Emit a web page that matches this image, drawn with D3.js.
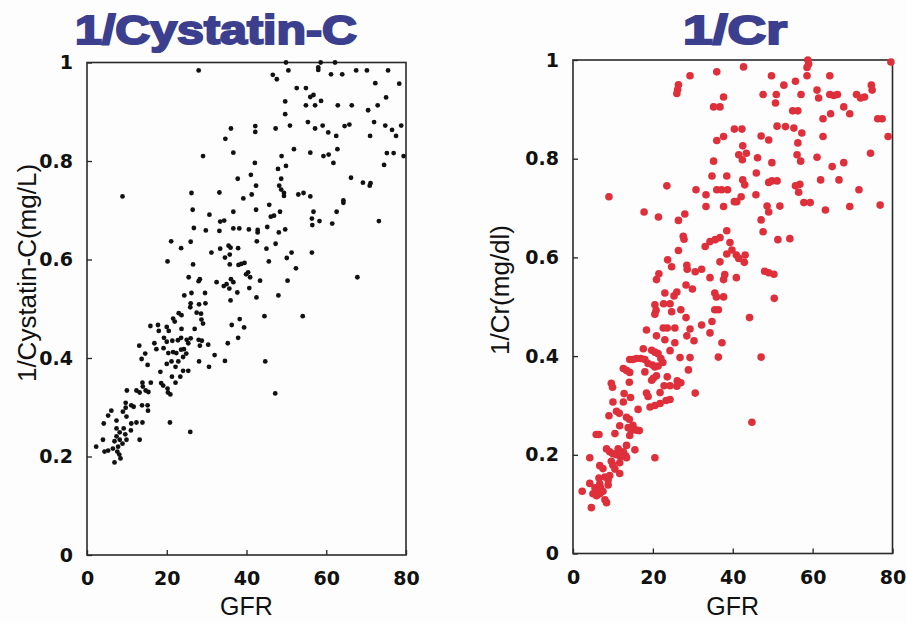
<!DOCTYPE html>
<html>
<head>
<meta charset="utf-8">
<script src="https://cdn.jsdelivr.net/npm/d3@7"></script>
<style>
  body { margin: 0; background: #fdfdfd; }
  svg { display: block; }
  .tick text { font-family: "DejaVu Sans", Arial, sans-serif; font-weight: bold; font-size: 19px; fill: #111; }
  .tick line { stroke: #222; stroke-width: 1.3; }
</style>
</head>
<body>
<div class="chart"></div>
<script>
// values: [GFR, 1/x]
const cystatinPoints = [
[49.9,1.0],[58.6,1.0],[62.2,1.0],[58,0.99],[58,0.985],[50.5,0.984],[28,0.984],[46.6,0.975],[47.6,0.966],[61.2,0.976],[64,0.976],[67.5,0.984],[70.2,0.984],[75.5,0.984],[72.3,0.958],[78.3,0.957],[52.6,0.948],[54.9,0.948],[56,0.93],[56.8,0.934],[54.9,0.913],[57.2,0.913],[58.7,0.922],[49.7,0.921],[49.7,0.895],[62.9,0.913],[66.4,0.913],[70.5,0.903],[72.9,0.913],[75,0.929],
[50.9,0.872],[59.1,0.872],[57.2,0.866],[55.4,0.879],[60.5,0.858],[62.5,0.851],[64.6,0.871],[65.8,0.874],[71,0.851],[72,0.879],[74.8,0.872],[76.5,0.863],[78.8,0.872],[77.5,0.851],[42.2,0.871],[42.2,0.859],[36.1,0.866],[34.7,0.845],[47.3,0.866],[36.7,0.817],[51.9,0.824],[62.8,0.824],[56,0.817],[60.6,0.813],[59.3,0.81],[61.8,0.796],[75.2,0.816],[76.9,0.816],[74.5,0.792],[79.4,0.81],
[29.1,0.81],[42.1,0.796],[48.8,0.81],[47.9,0.784],[49.9,0.79],[37.8,0.764],[41.1,0.772],[48.7,0.764],[42.4,0.75],[66.2,0.766],[69.2,0.756],[70.9,0.75],[71.1,0.755],[48.2,0.75],[48.7,0.742],[49.4,0.735],[49.4,0.729],[26.2,0.735],[33.2,0.736],[39.2,0.724],[41.3,0.732],[53,0.732],[54.3,0.735],[56,0.728],[64.3,0.72],[64.3,0.715],
[26.5,0.701],[30.7,0.691],[36.7,0.697],[45.7,0.711],[46.1,0.687],[46.9,0.689],[42.4,0.701],[48.4,0.697],[56.8,0.697],[62.6,0.697],[56.4,0.683],[56.5,0.67],[58.3,0.678],[61.5,0.673],[73.2,0.678],[8.9,0.728],
[26.8,0.664],[29.8,0.659],[33.2,0.658],[36.7,0.663],[38.2,0.663],[40.6,0.661],[42.8,0.66],[42.8,0.655],[33.4,0.677],[34.4,0.679],[45.2,0.666],[48.1,0.655],[49.7,0.661],[47.3,0.632],[45,0.622],[42.6,0.637],[56.4,0.614],[35.5,0.628],[36,0.624],[37.9,0.623],[33.4,0.622],[31.2,0.614],[26,0.636],[21.1,0.637],[23.6,0.623],
[20.2,0.596],[26.6,0.59],[35.8,0.61],[34.6,0.604],[35.8,0.59],[38,0.589],[38.7,0.591],[39.5,0.593],[45.6,0.596],[50.1,0.603],[51.3,0.614],[52.4,0.582],[40.4,0.574],[39.9,0.57],[32.5,0.554],[28.3,0.56],[28,0.556],[25.5,0.564],[36.1,0.56],[36.7,0.554],[35,0.55],[40.9,0.564],[43.4,0.557],[50.3,0.557],[34.3,0.546],[35.7,0.541],
[26.2,0.532],[29.6,0.532],[29.7,0.511],[24.4,0.527],[36,0.517],[37.7,0.533],[40.7,0.542],[42.5,0.523],[48,0.527],[28.1,0.509],[26,0.511],[25.9,0.503],[27.5,0.492],[28.6,0.49],[28.7,0.478],[29.1,0.47],[23,0.491],[23.7,0.487],[21.6,0.48],[22,0.474],[23.7,0.459],[27,0.459],[25,0.437],[25.4,0.43],[26,0.44],[28,0.437],[28.8,0.435],[28.3,0.425],[30.4,0.427],
[28.1,0.393],[30.6,0.382],[32,0.406],[34.6,0.394],[35.3,0.43],[36.3,0.467],[38.3,0.479],[37.9,0.441],[39.4,0.462],[44.5,0.485],[44.7,0.393],[47.2,0.328],[67.8,0.564],[54.1,0.485],
[15.9,0.465],[17.8,0.467],[18,0.455],[20,0.463],[20.5,0.455],[19.3,0.441],[20,0.433],[21.4,0.435],[22.8,0.436],[23.6,0.441],[24.3,0.418],[23.6,0.417],[21.6,0.412],[20.4,0.41],[19.2,0.42],[17.4,0.418],[16.9,0.43],[13.1,0.425],[14.6,0.409],[13.7,0.398],[15.2,0.386],[22.4,0.41],[24.9,0.409],[24.1,0.402],[22.9,0.393],[22.2,0.382],[21.2,0.393],[24.1,0.374],[25.4,0.374],[23.4,0.362],[21.3,0.362],[20,0.388],[18.4,0.372],
[18.6,0.349],[19.1,0.344],[20.2,0.338],[20.9,0.326],[20.3,0.33],[22.2,0.35],[16,0.35],[13.9,0.35],[14,0.342],[15.4,0.331],[14.7,0.334],[13.2,0.33],[12.4,0.334],[15.2,0.304],[15.3,0.293],[13.8,0.304],[11.7,0.301],[11.1,0.304],[9.7,0.309],[9.7,0.299],[10,0.334],[9,0.291],[6.1,0.293],[5.3,0.283],[4.2,0.267],[7.4,0.273],[11.1,0.267],[12.4,0.269],[13.9,0.269],[9.9,0.281],
[11,0.253],[9.2,0.257],[7.4,0.257],[8.2,0.249],[9.6,0.245],[7.4,0.241],[6.9,0.231],[8.2,0.234],[8.9,0.226],[9.9,0.234],[4,0.234],[13.2,0.234],[2.3,0.22],[4.4,0.21],[5.3,0.212],[7.8,0.22],[8.1,0.204],[8.4,0.196],[6.9,0.188],[6.5,0.216],[7.6,0.21],[20.8,0.269],[25.9,0.25]
];

const creatininePoints = [
[58.8,1.0],[59,0.992],[58.6,0.985],[79.6,0.996],[42.7,0.986],[36,0.976],[29.3,0.968],[49.7,0.968],[58.6,0.968],[64.3,0.968],[26.4,0.95],[26.2,0.94],[26,0.932],[52.8,0.949],[55.7,0.957],[74.7,0.949],[74.9,0.939],[61.1,0.939],[47.6,0.93],[50.9,0.93],[57.1,0.93],[64.3,0.93],[65.3,0.928],[66.2,0.93],[71,0.93],[72,0.923],[73,0.925],[61.5,0.923],[37.7,0.925],[50.7,0.913],
[35.2,0.905],[36.8,0.905],[55,0.897],[56.3,0.897],[67.8,0.905],[69.3,0.891],[62.6,0.881],[64.5,0.891],[76.3,0.881],[77.4,0.881],[51.1,0.866],[53.2,0.865],[55.3,0.862],[40.4,0.86],[42.3,0.86],[57.3,0.852],[47.1,0.846],[62.6,0.845],[78.9,0.845],[49,0.838],[36,0.837],[37.7,0.845],[42.5,0.826],[56.3,0.832],[43.4,0.811],[41.5,0.808],[42.4,0.798],[56.1,0.808],[74.5,0.811],[57,0.795],
[61.1,0.803],[46.2,0.802],[49.8,0.792],[35.2,0.795],[64.9,0.784],[67.8,0.792],[34.8,0.765],[38.5,0.765],[45.9,0.771],[66.6,0.757],[62,0.757],[49,0.752],[49.8,0.755],[51.1,0.755],[23.5,0.745],[42.5,0.757],[43,0.747],[55.7,0.745],[56.8,0.748],[56.5,0.732],[30.8,0.737],[36,0.737],[37.2,0.737],[38.7,0.737],[33.3,0.727],[45.8,0.727],[42.1,0.723],[40.4,0.713],[41,0.713],[71.6,0.737],[9,0.723],
[48.6,0.704],[49,0.692],[51.8,0.704],[57.8,0.711],[59.4,0.711],[69.3,0.703],[76.9,0.706],[63.2,0.696],[33.3,0.703],[37.7,0.703],[17.8,0.692],[21.4,0.682],[28,0.688],[26.4,0.675],[47.1,0.676],[47.6,0.652],[38.5,0.654],[36.8,0.64],[35.6,0.636],[27.6,0.643],[27.8,0.637],[34.3,0.632],[33.1,0.622],[39.3,0.63],[39.8,0.615],[51.3,0.636],[54.3,0.638],[26.4,0.614],
[38.5,0.607],[40.9,0.605],[41.5,0.598],[43.1,0.605],[42.9,0.59],[23.7,0.595],[36.8,0.591],[24.7,0.581],[28.5,0.584],[28.6,0.576],[30.6,0.571],[32.2,0.576],[21.5,0.567],[20.9,0.555],[34.3,0.559],[38,0.565],[37.7,0.555],[40.9,0.559],[48,0.572],[49,0.569],[50.3,0.566],[28.3,0.544],[29.9,0.536],[26,0.53],[25.3,0.522],[23,0.528],[22.7,0.506],[20.5,0.504],[35.5,0.528],[35.9,0.52],[37.7,0.52],[50.4,0.517],
[24.3,0.506],[27,0.494],[20.8,0.493],[20.5,0.485],[24.7,0.49],[35.5,0.494],[36.4,0.494],[34.8,0.47],[28.3,0.478],[44.2,0.478],[18.4,0.453],[22.6,0.457],[23.6,0.457],[25.5,0.457],[29.3,0.455],[32.2,0.463],[34.3,0.447],[28.5,0.441],[20.9,0.441],[23,0.433],[25.5,0.427],[30.3,0.431],[37.3,0.427],
[17.6,0.415],[19.7,0.412],[20.5,0.408],[21.3,0.405],[22,0.395],[22.5,0.387],[24.3,0.411],[26.8,0.397],[29.3,0.397],[36.4,0.398],[47.1,0.398],[14.2,0.393],[15,0.393],[15.9,0.395],[17,0.395],[18,0.393],[18.8,0.385],[19.9,0.382],[20.5,0.378],[21.3,0.38],[12.6,0.375],[13.4,0.371],[14.2,0.367],[18,0.368],[20.9,0.36],[20.1,0.355],[19.7,0.351],[23.6,0.358],[26.1,0.35],[28.9,0.372],
[14.1,0.347],[9.6,0.345],[9.9,0.337],[22.8,0.34],[24.3,0.34],[26,0.339],[27,0.346],[18.4,0.325],[18.8,0.318],[21.8,0.326],[23.3,0.31],[24.3,0.312],[19.3,0.297],[20.5,0.3],[21.8,0.304],[30.6,0.325],[12.8,0.324],[10,0.307],[12.6,0.307],[14.4,0.316],[16.3,0.292],[10.9,0.288],[11.6,0.284],[9,0.279],[13.4,0.276],[14.1,0.272],[11.7,0.259],[15,0.26],[13.8,0.255],[14.6,0.249],[15.9,0.25],[16.6,0.249],[44.8,0.266],
[6.5,0.241],[5.8,0.241],[10.5,0.243],[14.2,0.239],[15.5,0.21],[13.4,0.219],[11.3,0.212],[12.6,0.206],[13.2,0.198],[13.4,0.194],[8.4,0.212],[9.2,0.206],[10,0.202],[10.9,0.2],[11.9,0.196],[20.5,0.194],[4.2,0.194],[9.6,0.187],[10,0.179],[10.5,0.171],[11.7,0.184],[6.7,0.178],[7.5,0.172],[11.7,0.162],[8,0.155],[8.8,0.149],[6.5,0.153],[6.7,0.141],[6.9,0.133],[5.5,0.133],[5.9,0.127],[4.2,0.142],
[2.3,0.126],[5,0.121],[5.9,0.117],[6.7,0.121],[7.5,0.126],[8,0.109],[8.4,0.103],[4.6,0.093],[8.8,0.139],[9.2,0.158]
];

const gfrTicks = [0, 20, 40, 60, 80];
const valueTicks = [0, 0.2, 0.4, 0.6, 0.8, 1];

const W = 907, H = 623;

const svg = d3.select(".chart").append("svg")
    .attr("width", W)
    .attr("height", H);

function panel(opts) {
  const x = d3.scaleLinear().domain([0, 80]).range([opts.left, opts.right]);
  const y = d3.scaleLinear().domain([0, 1]).range([opts.bottom, opts.top]);

  const g = svg.append("g");

  // y axis (ticks point inward)
  g.append("g")
    .attr("transform", "translate(" + opts.left + ",0)")
    .call(d3.axisLeft(y).tickValues(valueTicks).tickSize(-5).tickPadding(14)
      .tickFormat(d => d === 0 || d === 1 ? d3.format("d")(d) : d3.format(".1f")(d)))
    .call(a => a.select(".domain").remove());

  // x axis
  g.append("g")
    .attr("transform", "translate(0," + opts.bottom + ")")
    .call(d3.axisBottom(x).tickValues(gfrTicks).tickSize(-5).tickPadding(17).tickFormat(d3.format("d")))
    .call(a => a.select(".domain").remove());

  // frame
  g.append("rect")
    .attr("x", opts.left)
    .attr("y", opts.top)
    .attr("width", opts.right - opts.left)
    .attr("height", opts.bottom - opts.top)
    .attr("fill", "none")
    .attr("stroke", "#2a2a2a")
    .attr("stroke-width", 1.6);

  g.append("g").selectAll("circle")
    .data(opts.data).enter()
    .append("circle")
    .attr("cx", d => x(d[0]))
    .attr("cy", d => y(d[1]))
    .attr("r", opts.r)
    .attr("fill", opts.color);

  // titles
  g.append("text")
    .attr("x", (opts.left + opts.right) / 2)
    .attr("y", 608)
    .attr("text-anchor", "middle")
    .attr("dominant-baseline", "middle")
    .style("font-family", "Liberation Sans, Arial, sans-serif")
    .style("font-size", "25px")
    .attr("fill", "#111")
    .text("GFR");

  g.append("text")
    .attr("transform", "translate(" + opts.ytitleX + "," + opts.ytitleY + ") rotate(-90)")
    .attr("text-anchor", "middle")
    .attr("dominant-baseline", "middle")
    .style("font-family", "Liberation Sans, Arial, sans-serif")
    .style("font-size", "26px")
    .attr("fill", "#111")
    .text(opts.ytitle);

  g.append("text")
    .attr("x", opts.titleX)
    .attr("y", 44)
    .attr("text-anchor", "middle")
    .style("font-family", "Liberation Sans, Arial, sans-serif")
    .style("font-weight", "bold")
    .style("font-size", "40px")
    .attr("fill", "#3b3f8d")
    .attr("stroke", "#3b3f8d")
    .attr("stroke-width", 2)
    .attr("textLength", opts.titleLen)
    .attr("lengthAdjust", "spacingAndGlyphs")
    .text(opts.title);
}

panel({
  data: cystatinPoints, left: 87, right: 406, top: 62.5, bottom: 555,
  color: "#111", r: 2.4,
  title: "1/Cystatin-C", titleX: 216, titleLen: 282,
  ytitle: "1/Cystatin-C(mg/L)", ytitleX: 29, ytitleY: 273
});

panel({
  data: creatininePoints, left: 573, right: 892.5, top: 60, bottom: 553.5,
  color: "#de2f3b", r: 3.8,
  title: "1/Cr", titleX: 735, titleLen: 104,
  ytitle: "1/Cr(mg/dl)", ytitleX: 502, ytitleY: 290
});
</script>
</body>
</html>
